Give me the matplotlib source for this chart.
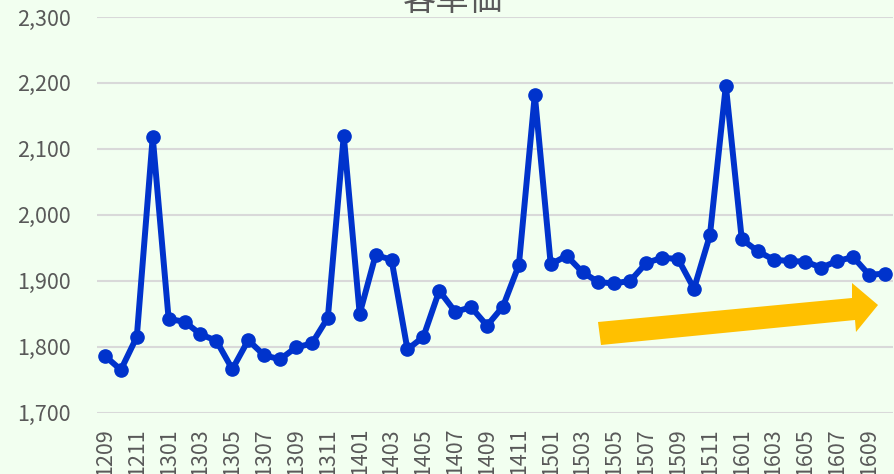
import matplotlib.pyplot as plt
from matplotlib.patches import Polygon
from matplotlib.ticker import FuncFormatter
import numpy as np

plt.rcParams['font.family'] = ['Noto Sans CJK JP', 'DejaVu Sans']

# monthly labels yymm, 1209 .. 1610
months = ['1209', '1210', '1211', '1212',
          '1301', '1302', '1303', '1304', '1305', '1306', '1307', '1308', '1309', '1310', '1311', '1312',
          '1401', '1402', '1403', '1404', '1405', '1406', '1407', '1408', '1409', '1410', '1411', '1412',
          '1501', '1502', '1503', '1504', '1505', '1506', '1507', '1508', '1509', '1510', '1511', '1512',
          '1601', '1602', '1603', '1604', '1605', '1606', '1607', '1608', '1609', '1610']
unit_price = [1786, 1765, 1815, 2118,
              1842, 1838, 1819, 1809, 1766, 1810, 1787, 1781, 1799, 1805, 1844, 2120,
              1850, 1939, 1932, 1796, 1815, 1885, 1853, 1860, 1832, 1861, 1924, 2182,
              1925, 1938, 1913, 1898, 1896, 1900, 1927, 1935, 1933, 1888, 1969, 2196,
              1963, 1945, 1932, 1930, 1929, 1920, 1930, 1936, 1909, 1911]
title = '客単価'

W, H = 895, 474
bg = '#F2FFF0'
grey = '#595959'

fig = plt.figure(figsize=(W / 100, H / 100), dpi=100, facecolor=bg)
ax = fig.add_axes([97 / W, 1 - 412.7 / H, (893 - 97) / W, (412.7 - 17) / H])
ax.set_facecolor(bg)

x = np.arange(len(months))
ax.plot(x, unit_price, color='#0033CC', linewidth=4.3, marker='o', markersize=9.5, zorder=3)

ax.set_ylim(1700, 2300)
ax.set_yticks(np.arange(1700, 2301, 100))
ax.yaxis.set_major_formatter(FuncFormatter(lambda v, p: f'{int(v):,}'))
ax.set_xlim(-0.5, len(months) - 0.5)
ax.set_xticks(x[::2])
ax.set_xticklabels(months[::2], rotation=90, va='top')

ax.grid(axis='y', color='#D9D9D9', linewidth=1.5)
ax.set_axisbelow(True)
for s in ax.spines.values():
    s.set_visible(False)
ax.tick_params(length=0, colors=grey, labelsize=15.5)
ax.tick_params(axis='y', pad=19)
ax.tick_params(axis='x', pad=11)

# trend arrow
pts = [(601, 345), (598, 322), (852, 298), (852, 283), (878, 305), (856, 332), (855, 320)]
arrow = Polygon([(px / W, 1 - py / H) for px, py in pts], closed=True,
                facecolor='#FFC000', edgecolor='none', transform=fig.transFigure, zorder=5)
fig.patches.append(arrow)

fig.text(453 / W, 1 - 18 / H, title, ha='center', va='bottom', fontsize=24, color=grey)

fig.savefig('out.png', dpi=100, facecolor=bg)
